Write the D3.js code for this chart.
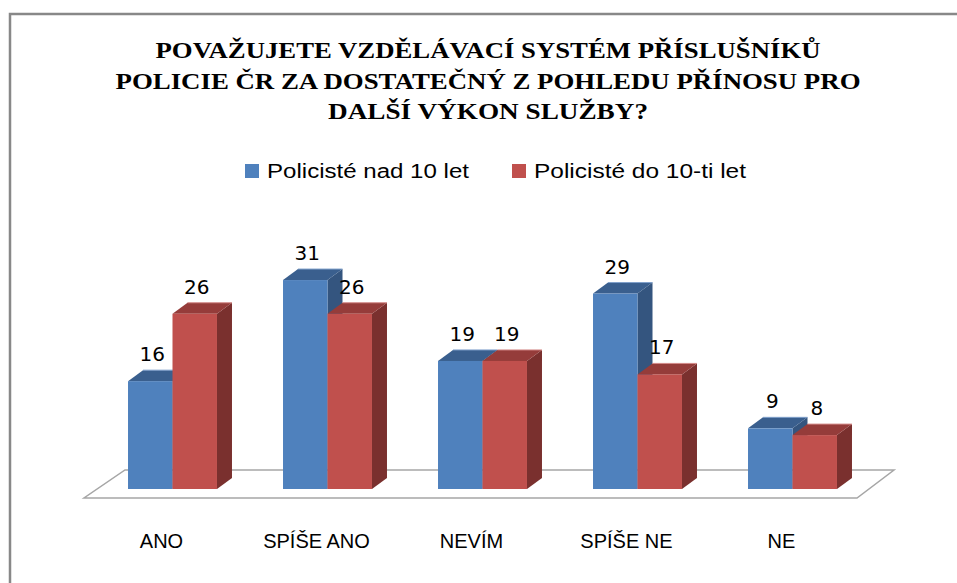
<!DOCTYPE html>
<html>
<head>
<meta charset="utf-8">
<script src="https://cdn.jsdelivr.net/npm/d3@7"></script>
<style>
  html, body { margin: 0; padding: 0; background: #fff; }
  svg { display: block; }
</style>
</head>
<body>
<svg id="chart"></svg>
<script>
const categories = ['ANO', 'SPÍŠE ANO', 'NEVÍM', 'SPÍŠE NE', 'NE'];
const seriesNames = ['Policisté nad 10 let', 'Policisté do 10-ti let'];
const over10 = [16, 31, 19, 29, 9];
const under10 = [26, 26, 19, 17, 8];
const titleLines = [
  'POVAŽUJETE VZDĚLÁVACÍ SYSTÉM PŘÍSLUŠNÍKŮ',
  'POLICIE ČR ZA DOSTATEČNÝ Z POHLEDU PŘÍNOSU PRO',
  'DALŠÍ VÝKON SLUŽBY?'
];

const W = 957, H = 583;
const svg = d3.select('#chart').attr('width', W).attr('height', H);

// colours: front, top, side
const palette = [
  { front: '#4F81BD', top: '#3A5F8E', side: '#34557F', edge: '#7F9FCB' },
  { front: '#C0504D', top: '#953C3A', side: '#7A302E', edge: '#D38A88' }
];

// outer frame (runs off the right and bottom edge)
svg.append('rect')
  .attr('x', 10).attr('y', 14)
  .attr('width', 1000).attr('height', 1000)
  .attr('fill', '#fff')
  .attr('stroke', '#888').attr('stroke-width', 2.5);

// title
const titleWidths = [665, 745, 320];
svg.append('g').selectAll('text')
  .data(titleLines)
  .enter().append('text')
  .attr('x', 488)
  .attr('y', (d, i) => 58 + i * 30.5)
  .attr('text-anchor', 'middle')
  .attr('font-family', '"Liberation Serif", "Times New Roman", serif')
  .attr('font-weight', 'bold')
  .attr('font-size', '24px')
  .attr('textLength', (d, i) => titleWidths[i])
  .attr('lengthAdjust', 'spacingAndGlyphs')
  .attr('fill', '#000')
  .text(d => d);

// legend
const legendX = [245, 512];
const legendW = [202, 212];
const legend = svg.append('g').selectAll('g')
  .data(seriesNames)
  .enter().append('g')
  .attr('transform', (d, i) => `translate(${legendX[i]},0)`);
legend.append('rect')
  .attr('x', 0).attr('y', 164)
  .attr('width', 14).attr('height', 14)
  .attr('fill', (d, i) => palette[i].front);
legend.append('text')
  .attr('x', 22).attr('y', 178)
  .attr('font-family', '"Liberation Sans", Arial, sans-serif')
  .attr('font-size', '20px')
  .attr('textLength', (d, i) => legendW[i])
  .attr('lengthAdjust', 'spacingAndGlyphs')
  .attr('fill', '#000')
  .text(d => d);

// scales
const x = d3.scaleBand()
  .domain(categories)
  .range([95, 870])
  .paddingInner(0.426)
  .paddingOuter(0.213);
const xs = d3.scaleBand()
  .domain(d3.range(seriesNames.length))
  .range([0, x.bandwidth()]);
const y = d3.scaleLinear().domain([0, 35]).range([489, 489 - 35 * 6.74]);

const dx = 15, dy = -11;
const y0 = y(0);

// floor
const fl = x.range()[0] - 11, fr = x.range()[1] - 13;
const floorPts = [[fl, y0 + 9], [fr, y0 + 9], [fr + 37, y0 - 19], [fl + 41, y0 - 19]];
svg.append('path')
  .attr('d', d3.line()(floorPts) + 'Z')
  .attr('fill', '#fff')
  .attr('stroke', '#a6a6a6')
  .attr('stroke-width', 1.5);

// bars
const rows = [];
categories.forEach((c, ci) => {
  [over10, under10].forEach((s, si) => rows.push({ cat: c, s: si, v: s[ci] }));
});

const bars = svg.append('g').selectAll('g')
  .data(rows)
  .enter().append('g');

bars.each(function (d) {
  const g = d3.select(this);
  const x1 = x(d.cat) + xs(d.s), x2 = x1 + xs.bandwidth();
  const yt = y(d.v);
  const col = palette[d.s];
  // side
  g.append('path')
    .attr('d', d3.line()([[x2, y0], [x2, yt], [x2 + dx, yt + dy], [x2 + dx, y0 + dy]]) + 'Z')
    .attr('fill', col.side);
  // top
  g.append('path')
    .attr('d', d3.line()([[x1, yt], [x2, yt], [x2 + dx, yt + dy], [x1 + dx, yt + dy]]) + 'Z')
    .attr('fill', col.top);
  g.append('line')
    .attr('x1', x1 + dx).attr('x2', x2 + dx)
    .attr('y1', yt + dy).attr('y2', yt + dy)
    .attr('stroke', col.edge).attr('stroke-width', 1);
  // front
  g.append('rect')
    .attr('x', x1).attr('y', yt)
    .attr('width', x2 - x1).attr('height', y0 - yt)
    .attr('fill', col.front);
});

// value labels
svg.append('g').selectAll('text')
  .data(rows)
  .enter().append('text')
  .attr('x', d => x(d.cat) + xs(d.s) + xs.bandwidth() / 2 + 2)
  .attr('y', d => y(d.v) - 20)
  .attr('text-anchor', 'middle')
  .attr('font-family', '"DejaVu Sans", Verdana, sans-serif')
  .attr('font-size', '20px')
  .attr('fill', '#000')
  .text(d => d.v);

// category labels
svg.append('g').selectAll('text')
  .data(categories)
  .enter().append('text')
  .attr('x', d => x(d) + x.bandwidth() / 2 - 11)
  .attr('y', 548)
  .attr('text-anchor', 'middle')
  .attr('font-family', '"Liberation Sans", Arial, sans-serif')
  .attr('font-size', '20px')
  .attr('fill', '#000')
  .text(d => d);
</script>
</body>
</html>
